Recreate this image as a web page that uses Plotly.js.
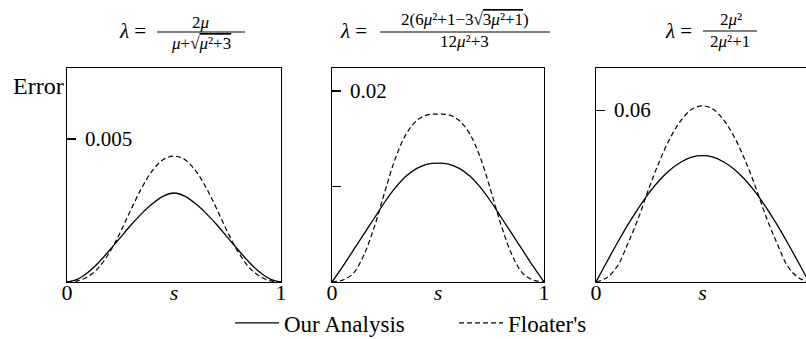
<!DOCTYPE html>
<html>
<head>
<meta charset="utf-8">
<script src="https://cdn.plot.ly/plotly-3.0.1.min.js"></script>
<style>
  html, body { margin: 0; padding: 0; background: #fff; }
  #chart { width: 806px; height: 339px; }
</style>
</head>
<body>
<div id="chart"></div>
<script>
// parameter s along the edge
const sVals = [0, 0.05, 0.1, 0.15, 0.2, 0.25, 0.3, 0.35, 0.4, 0.45, 0.5,
               0.55, 0.6, 0.65, 0.7, 0.75, 0.8, 0.85, 0.9, 0.95, 1];

// lambda = 2mu / (mu + sqrt(mu^2 + 3))
const ours1 = [0, 0.00010, 0.00035, 0.00070, 0.00112, 0.00156, 0.00200, 0.00240, 0.00274, 0.00300, 0.00311,
               0.00300, 0.00274, 0.00240, 0.00200, 0.00156, 0.00112, 0.00070, 0.00035, 0.00010, 0];
const floater1 = [0, 0.00004, 0.00020, 0.00052, 0.00105, 0.00175, 0.00255, 0.00330, 0.00390, 0.00428, 0.00440,
                  0.00428, 0.00390, 0.00330, 0.00255, 0.00175, 0.00105, 0.00052, 0.00020, 0.00004, 0];

// lambda = 2(6mu^2 + 1 - 3 sqrt(3mu^2 + 1)) / (12mu^2 + 3)
const ours2 = [0, 0.0016, 0.0033, 0.0050, 0.0067, 0.0084, 0.0099, 0.0111, 0.0119, 0.01235, 0.01245,
               0.01235, 0.0119, 0.0111, 0.0099, 0.0084, 0.0067, 0.0050, 0.0033, 0.0016, 0];
const floater2 = [0, 0.0002, 0.0009, 0.0028, 0.0058, 0.0095, 0.0130, 0.0155, 0.0169, 0.0175, 0.01756,
                  0.0175, 0.0169, 0.0155, 0.0130, 0.0095, 0.0058, 0.0028, 0.0009, 0.0002, 0];

// lambda = 2mu^2 / (2mu^2 + 1)
const ours3 = [0, 0.0069, 0.0136, 0.0200, 0.0259, 0.0312, 0.0357, 0.0393, 0.0419, 0.0436, 0.0441,
               0.0436, 0.0419, 0.0393, 0.0357, 0.0312, 0.0259, 0.0200, 0.0136, 0.0069, 0];
const floater3 = [0, 0.0015, 0.0055, 0.0135, 0.0225, 0.0330, 0.0425, 0.0505, 0.0565, 0.0603, 0.0615,
                  0.0603, 0.0565, 0.0505, 0.0425, 0.0330, 0.0225, 0.0135, 0.0055, 0.0015, 0];

// axis ticks
const xTickVals = [0, 0.5, 1];
const xTickText = ['0', '<i>s</i>', '1'];
const yTickVals1 = [0.005];
const yTickText1 = ['0.005'];
const yTickVals2 = [0.01, 0.02];
const yTickText2 = [' ', '0.02'];
const yTickVals3 = [0.06];
const yTickText3 = ['0.06'];

const seriesNames = ['Our Analysis', "Floater's"];

// ---- layout helpers (pixel -> paper) ----
const W = 806, H = 339;
const px = x => x / W;
const py = y => 1 - y / H;
const SERIF = 'Liberation Serif';

const curveSolid = { color: '#000', width: 1.3, shape: 'spline', smoothing: 1 };
const curveDash = { color: '#000', width: 1.2, dash: '5px,3px', shape: 'spline', smoothing: 1 };

// solid curves go on the labelled y axes, dashed ones on the framed axes (same ranges)
const panels = [
  { ours: ours1, fl: floater1, xa: 'x', ya: 'y', yl: 'y4' },
  { ours: ours2, fl: floater2, xa: 'x2', ya: 'y2', yl: 'y5' },
  { ours: ours3, fl: floater3, xa: 'x3', ya: 'y3', yl: 'y6' }
];

const traces = [];
panels.forEach((p, i) => {
  traces.push({ x: sVals, y: p.ours, xaxis: p.xa, yaxis: p.yl, mode: 'lines',
                line: curveSolid, name: seriesNames[0], showlegend: i === 0, hoverinfo: 'skip' });
  traces.push({ x: sVals, y: p.fl, xaxis: p.xa, yaxis: p.ya, mode: 'lines',
                line: curveDash, name: seriesNames[1], showlegend: i === 0, hoverinfo: 'skip' });
});

const yDom = [py(282), py(68)];
const xTickFont = { family: SERIF, size: 22, color: '#000' };
const yTickFont = { family: SERIF, size: 21, color: '#000' };

function xAxis(dom, range, anchor) {
  return {
    domain: dom, range: range, anchor: anchor,
    showline: true, mirror: true, linecolor: '#000', linewidth: 1.3,
    ticks: '', tickvals: xTickVals, ticktext: xTickText, tickfont: xTickFont,
    ticklabelstandoff: -10,
    showgrid: false, zeroline: false, fixedrange: true
  };
}
// frame axis: line and inward tick marks
function yAxis(range, vals, anchor, mirror) {
  return {
    domain: yDom, range: range, anchor: anchor,
    showline: true, mirror: mirror, linecolor: '#000', linewidth: 1.3,
    ticks: 'inside', ticklen: 9, tickwidth: 1.2, tickcolor: '#000',
    tickvals: vals, showticklabels: false,
    showgrid: false, zeroline: false, fixedrange: true
  };
}
// label axis: same scale, labels written just right of the frame line
function yLabelAxis(range, vals, text, over, xpos) {
  return {
    domain: yDom, range: range, overlaying: over, anchor: 'free', position: xpos,
    side: 'right', showline: false, ticks: '', tickvals: vals, ticktext: text,
    tickfont: yTickFont, ticklabelstandoff: 17,
    showgrid: false, zeroline: false, fixedrange: true
  };
}

const mathBig = { family: SERIF, size: 21, color: '#000' };
const mathSmall = { family: SERIF, size: 17, color: '#000' };
const ov = t => '<span style="text-decoration:overline">' + t + '</span>';

function ann(text, x, y, font, xanchor) {
  return { text: text, x: px(x), y: py(y), xref: 'paper', yref: 'paper',
           xanchor: xanchor || 'center', yanchor: 'middle', showarrow: false, font: font };
}

const annotations = [
  ann('Error', 66, 86, { family: SERIF, size: 24, color: '#000' }, 'right'),
  // first formula
  ann('<i>λ</i> =', 148, 31, mathBig, 'right'),
  ann('2<i>μ</i>', 200, 22, mathSmall),
  ann('<i>μ</i>+√' + ov('<i>μ</i>²+3'), 201, 43, mathSmall),
  // second formula
  ann('<i>λ</i> =', 369, 31, mathBig, 'right'),
  ann('2(6<i>μ</i>²+1−3√' + ov('3<i>μ</i>²+1') + ')', 465, 19, mathSmall),
  ann('12<i>μ</i>²+3', 464, 42, mathSmall),
  // third formula
  ann('<i>λ</i> =', 694, 31, mathBig, 'right'),
  ann('2<i>μ</i>²', 731, 20, mathSmall),
  ann('2<i>μ</i>²+1', 730, 42, mathSmall)
];

// fraction bars
const bar = (x0, x1, y) => ({ type: 'line', xref: 'paper', yref: 'paper',
  x0: px(x0), x1: px(x1), y0: py(y), y1: py(y), line: { color: '#000', width: 1 } });
const shapes = [bar(157, 245, 32), bar(380, 550, 32), bar(703, 757, 31)];

const layout = {
  width: W, height: H,
  margin: { l: 0, r: 0, t: 0, b: 0, pad: 0, autoexpand: false },
  paper_bgcolor: '#fff', plot_bgcolor: '#fff',
  font: { family: SERIF, color: '#000' },
  showlegend: true,
  legend: {
    orientation: 'h', x: px(230), y: py(323), xanchor: 'left', yanchor: 'middle',
    font: { family: SERIF, size: 23, color: '#000' },
    itemwidth: 44, entrywidth: 165, entrywidthmode: 'pixels',
    bgcolor: 'rgba(0,0,0,0)', borderwidth: 0
  },
  xaxis: xAxis([px(67), px(281)], [0, 1], 'y'),
  yaxis: yAxis([0, 0.00748], yTickVals1, 'x', true),
  xaxis2: xAxis([px(332), px(544)], [0, 1], 'y2'),
  yaxis2: yAxis([0, 0.0224], yTickVals2, 'x2', true),
  xaxis3: xAxis([px(596), 1], [0, 0.986], 'y3'),
  yaxis3: yAxis([0, 0.0747], yTickVals3, 'x3', false),
  yaxis4: yLabelAxis([0, 0.00748], yTickVals1, yTickText1, 'y', px(67)),
  yaxis5: yLabelAxis([0, 0.0224], yTickVals2, yTickText2, 'y2', px(332)),
  yaxis6: yLabelAxis([0, 0.0747], yTickVals3, yTickText3, 'y3', px(596)),
  annotations: annotations,
  shapes: shapes
};

Plotly.newPlot('chart', traces, layout, { staticPlot: true, displayModeBar: false });
</script>
</body>
</html>
